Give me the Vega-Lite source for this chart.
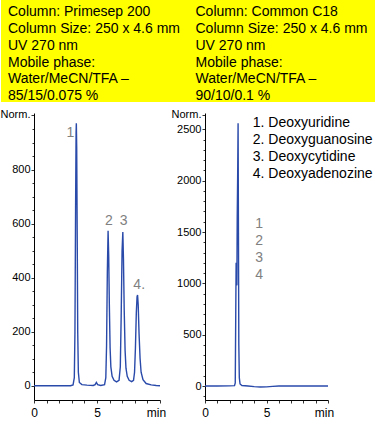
{
  "$schema": "https://vega.github.io/schema/vega-lite/v6.json",
  "padding": 0,
  "background": "white",
  "bounds": "full",
  "spacing": 4,
  "config": {
    "font": "Liberation Sans",
    "view": {"stroke": null},
    "axis": {
      "domainColor": "#000000",
      "tickColor": "#333333",
      "labelColor": "#000000",
      "labelFont": "Liberation Sans",
      "labelFontSize": 11,
      "tickSize": 3,
      "grid": false,
      "title": null,
      "labelOverlap": false
    }
  },
  "vconcat": [
    {
      "width": 375,
      "height": 102,
      "view": {"fill": "#ffff00", "stroke": null},
      "data": {"values": [
        {"panel": "A", "line": 1, "text": "Column: Primesep 200"},
        {"panel": "A", "line": 2, "text": "Column Size: 250 x 4.6 mm"},
        {"panel": "A", "line": 3, "text": "UV 270 nm"},
        {"panel": "A", "line": 4, "text": "Mobile phase:"},
        {"panel": "A", "line": 5, "text": "Water/MeCN/TFA –"},
        {"panel": "A", "line": 6, "text": "85/15/0.075 %"},
        {"panel": "B", "line": 1, "text": "Column: Common C18"},
        {"panel": "B", "line": 2, "text": "Column Size: 250 x 4.6 mm"},
        {"panel": "B", "line": 3, "text": "UV 270 nm"},
        {"panel": "B", "line": 4, "text": "Mobile phase:"},
        {"panel": "B", "line": 5, "text": "Water/MeCN/TFA –"},
        {"panel": "B", "line": 6, "text": "90/10/0.1 %"}
      ]},
      "mark": {"type": "text", "align": "left", "baseline": "middle", "fontSize": 14, "dx": 7, "font": "Liberation Sans", "color": "#000000"},
      "encoding": {
        "x": {"field": "panel", "type": "nominal", "bandPosition": 0, "scale": {"type": "band", "paddingInner": 0, "paddingOuter": 0}, "axis": null},
        "y": {"field": "line", "type": "quantitative", "scale": {"domain": [0.265, 6.358], "reverse": true, "nice": false, "zero": false}, "axis": null},
        "text": {"field": "text"}
      }
    },
    {
      "bounds": "full",
      "spacing": 5,
      "hconcat": [
        {
          "width": 160,
          "height": 287,
          "encoding": {
            "x": {"field": "t", "type": "quantitative",
              "scale": {"domain": [0, 10], "range": [33, 159], "nice": false, "zero": false},
              "axis": {"values": [0, 1, 2, 3, 4, 5, 6, 7, 8, 9, 10], "labelOverlap": false, "labelFlush": false, "labelExpr": "datum.value == 10 ? 'min' : (datum.value == 0 || datum.value == 5 ? datum.label : '')", "labelOffset": {"condition": {"test": "datum.value == 10", "value": -4}, "value": 0}, "labelPadding": 4, "labelFontSize": 12}},
            "y": {"field": "v", "type": "quantitative",
              "scale": {"domain": [-53, 1011], "nice": false, "zero": false},
              "axis": {"offset": -33, "values": [0, 50, 100, 150, 200, 250, 300, 350, 400, 450, 500, 550, 600, 650, 700, 750, 800, 850, 900, 950, 1005], "labelOverlap": false, "format": "d", "labelExpr": "datum.value == 1005 ? 'Norm.' : (datum.value % 200 == 0 ? datum.label : '')", "tickSize": {"condition": {"test": "datum.value % 200 == 0 || datum.value == 1005", "value": 3}, "value": 2}, "labelPadding": 1}}
          },
          "layer": [
            {
              "data": {"values": [
                {"t": 0, "v": 0}, {"t": 1, "v": 0}, {"t": 2, "v": 0}, {"t": 2.9, "v": 0},
                {"t": 3.1, "v": 3}, {"t": 3.2, "v": 30}, {"t": 3.25, "v": 200}, {"t": 3.3, "v": 650},
                {"t": 3.34, "v": 940}, {"t": 3.36, "v": 973}, {"t": 3.39, "v": 880}, {"t": 3.43, "v": 550},
                {"t": 3.47, "v": 200}, {"t": 3.52, "v": 50}, {"t": 3.6, "v": 12}, {"t": 3.8, "v": 4},
                {"t": 4.2, "v": 2}, {"t": 4.7, "v": 1}, {"t": 4.85, "v": 4}, {"t": 4.95, "v": 12},
                {"t": 5.05, "v": 4}, {"t": 5.3, "v": 1}, {"t": 5.6, "v": 4}, {"t": 5.7, "v": 30},
                {"t": 5.76, "v": 150}, {"t": 5.82, "v": 420}, {"t": 5.88, "v": 574}, {"t": 5.93, "v": 480},
                {"t": 5.98, "v": 300}, {"t": 6.04, "v": 140}, {"t": 6.1, "v": 70}, {"t": 6.2, "v": 35},
                {"t": 6.35, "v": 20}, {"t": 6.55, "v": 14}, {"t": 6.75, "v": 20}, {"t": 6.85, "v": 70},
                {"t": 6.92, "v": 260}, {"t": 6.99, "v": 500}, {"t": 7.05, "v": 570}, {"t": 7.1, "v": 470},
                {"t": 7.16, "v": 280}, {"t": 7.23, "v": 130}, {"t": 7.3, "v": 65}, {"t": 7.4, "v": 35},
                {"t": 7.55, "v": 20}, {"t": 7.75, "v": 15}, {"t": 7.9, "v": 20}, {"t": 7.98, "v": 50},
                {"t": 8.05, "v": 140}, {"t": 8.12, "v": 270}, {"t": 8.18, "v": 330}, {"t": 8.22, "v": 336},
                {"t": 8.27, "v": 300}, {"t": 8.34, "v": 190}, {"t": 8.42, "v": 100}, {"t": 8.5, "v": 50},
                {"t": 8.65, "v": 22}, {"t": 8.9, "v": 8}, {"t": 9.3, "v": 3}, {"t": 9.7, "v": 1}, {"t": 10, "v": 0}
              ]},
              "mark": {"type": "line", "color": "#2a4aaa", "strokeWidth": 1.4, "clip": true}
            },
            {
              "data": {"values": [
                {"t": 2.88, "v": 938, "lab": "1"},
                {"t": 5.95, "v": 611, "lab": "2"},
                {"t": 7.12, "v": 611, "lab": "3"},
                {"t": 8.35, "v": 373, "lab": "4."}
              ]},
              "mark": {"type": "text", "color": "#808080", "fontSize": 14, "font": "Liberation Sans", "baseline": "middle"},
              "encoding": {"text": {"field": "lab"}}
            }
          ]
        },
        {
          "width": 123,
          "height": 287,
          "encoding": {
            "x": {"field": "t", "type": "quantitative",
              "scale": {"domain": [0, 10], "nice": false, "zero": false},
              "axis": {"values": [0, 1, 2, 3, 4, 5, 6, 7, 8, 9, 10], "labelOverlap": false, "labelFlush": false, "labelExpr": "datum.value == 10 ? 'min' : (datum.value == 0 || datum.value == 5 ? datum.label : '')", "labelOffset": {"condition": {"test": "datum.value == 10", "value": -4}, "value": 0}, "labelPadding": 4, "labelFontSize": 12}},
            "y": {"field": "v", "type": "quantitative",
              "scale": {"domain": [-136, 2659], "nice": false, "zero": false},
              "axis": {"values": [-100, 0, 100, 200, 300, 400, 500, 600, 700, 800, 900, 1000, 1100, 1200, 1300, 1400, 1500, 1600, 1700, 1800, 1900, 2000, 2100, 2200, 2300, 2400, 2500, 2640], "labelOverlap": false, "format": "d", "labelExpr": "datum.value == 2640 ? 'Norm.' : (datum.value % 500 == 0 ? datum.label : '')", "tickSize": {"condition": {"test": "datum.value % 500 == 0 || datum.value == 2640", "value": 3}, "value": 2}, "labelPadding": 1}}
          },
          "layer": [
            {
              "data": {"values": [
                {"t": 0, "v": 0}, {"t": 1, "v": 1}, {"t": 2, "v": 2}, {"t": 2.4, "v": 4},
                {"t": 2.46, "v": 30}, {"t": 2.5, "v": 700}, {"t": 2.53, "v": 1200}, {"t": 2.56, "v": 1050},
                {"t": 2.59, "v": 980}, {"t": 2.62, "v": 1640}, {"t": 2.66, "v": 2100}, {"t": 2.69, "v": 2558},
                {"t": 2.72, "v": 1500}, {"t": 2.75, "v": 400}, {"t": 2.79, "v": 80}, {"t": 2.85, "v": 20},
                {"t": 3, "v": 5}, {"t": 3.5, "v": 0}, {"t": 4, "v": -6}, {"t": 4.5, "v": -10},
                {"t": 5, "v": -8}, {"t": 5.5, "v": -3}, {"t": 6, "v": 0}, {"t": 7, "v": 0},
                {"t": 8, "v": 0}, {"t": 10, "v": 0}
              ]},
              "mark": {"type": "line", "color": "#2a4aaa", "strokeWidth": 1.4, "clip": true}
            },
            {
              "data": {"values": [
                {"t": 4.41, "v": 1574, "lab": "1"},
                {"t": 4.41, "v": 1409, "lab": "2"},
                {"t": 4.41, "v": 1249, "lab": "3"},
                {"t": 4.41, "v": 1081, "lab": "4"}
              ]},
              "mark": {"type": "text", "color": "#808080", "fontSize": 14, "font": "Liberation Sans", "baseline": "middle"},
              "encoding": {"text": {"field": "lab"}}
            },
            {
              "data": {"values": [
                {"t": 3.88, "v": 2558, "lab": "1. Deoxyuridine"},
                {"t": 3.88, "v": 2395, "lab": "2. Deoxyguanosine"},
                {"t": 3.88, "v": 2227, "lab": "3. Deoxycytidine"},
                {"t": 3.88, "v": 2064, "lab": "4. Deoxyadenozine"}
              ]},
              "mark": {"type": "text", "color": "#000000", "fontSize": 14, "font": "Liberation Sans", "align": "left", "baseline": "middle", "clip": false},
              "encoding": {"text": {"field": "lab"}}
            }
          ]
        }
      ]
    }
  ]
}
